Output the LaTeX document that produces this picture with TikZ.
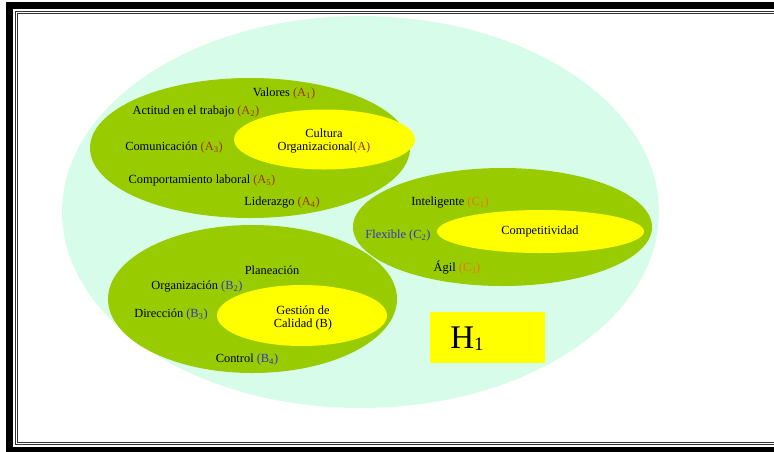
\documentclass[tikz,border=0pt]{standalone}
\usepackage{fontspec}
\setmainfont{Liberation Serif}
\definecolor{mint}{HTML}{D8FCEA}
\definecolor{leaf}{HTML}{99CC00}
\definecolor{yel}{HTML}{FFFF00}
\definecolor{brn}{HTML}{993300}
\definecolor{org}{HTML}{F07020}
\definecolor{blu}{HTML}{3333CC}
\newcommand{\sbs}[1]{\textsubscript{#1}}
\begin{document}
\begin{tikzpicture}[x=1pt,y=-1pt,
  lbl/.style={inner sep=0pt, font=\fontsize{12.4}{14}\selectfont, align=center, yshift=-2pt}]
\useasboundingbox (0,0) rectangle (774,451);
% frame
\draw[line width=7pt] (9.7,5.5) rectangle (800,450.3);
\draw[line width=0.9pt, black!80] (15,11) rectangle (800,444.5);
\draw[line width=0.9pt, black!80] (17.5,13.3) rectangle (800,442);
% big ellipse
\fill[mint] (360.5,212) ellipse [x radius=298.5, y radius=196];
% A
\fill[leaf] (250,148) ellipse [x radius=160, y radius=70];
\fill[yel] (324.5,139.5) ellipse [x radius=90.5, y radius=30];
% C
\fill[leaf] (502.5,227) ellipse [x radius=149.5, y radius=59];
\fill[yel] (540.5,231.5) ellipse [x radius=103.5, y radius=21.5];
% B
\fill[leaf] (252.5,299) ellipse [x radius=144.5, y radius=74];
\fill[yel] (302,315.5) ellipse [x radius=85, y radius=30.5];
% H1
\node[fill=yel, minimum width=115pt, minimum height=51pt, inner sep=0pt] (h) at (487.5,337.5) {};
\node[inner sep=0pt, font=\fontsize{33}{36}\selectfont] (ht) at (467,339) {H\raisebox{-2pt}{\fontsize{19}{20}\selectfont 1}};
% A texts
\node[lbl] (a1) at (284,92) {Valores \textcolor{brn}{(A\sbs{1})}};
\node[lbl] (a2) at (196,110) {Actitud en el trabajo \textcolor{brn}{(A\sbs{2})}};
\node[lbl] (a3) at (174,146) {Comunicación \textcolor{brn}{(A\sbs{3})}};
\node[lbl] (a5) at (202,179) {Comportamiento laboral \textcolor{brn}{(A\sbs{5})}};
\node[lbl] (a4) at (282,201) {Liderazgo \textcolor{brn}{(A\sbs{4})}};
\node[lbl] (a) at (324,139.5) {Cultura\\[-1pt]Organizacional\textcolor{brn}{(A)}};
% C texts
\node[lbl] (c1) at (450,201) {Inteligente \textcolor{org}{(C\sbs{1})}};
\node[lbl] (c2) at (398,234) {\textcolor{blu}{Flexible (C\sbs{2})}};
\node[lbl] (c) at (540,230) {Competitividad};
\node[lbl] (c3) at (457,266) {Ágil \textcolor{org}{(C\sbs{3})}};
% B texts
\node[lbl] (b1) at (272,268) {Planeación};
\node[lbl] (b2) at (197,285) {Organización \textcolor{blu}{(B\sbs{2})}};
\node[lbl] (b3) at (171,313) {Dirección \textcolor{blu}{(B\sbs{3})}};
\node[lbl] (b) at (303,316) {Gestión de\\[-1pt]Calidad (B)};
\node[lbl] (b4) at (247,358) {Control \textcolor{blu}{(B\sbs{4})}};
\end{tikzpicture}
\end{document}
